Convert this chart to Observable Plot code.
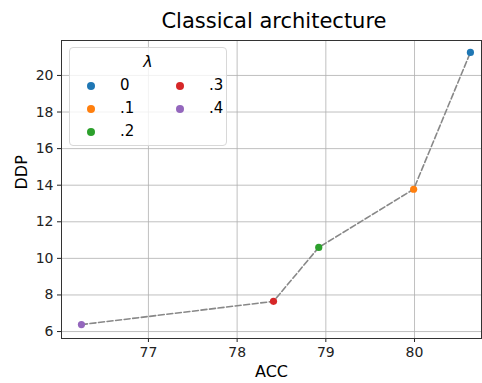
<!DOCTYPE html>
<html><head><meta charset="utf-8">
<script src="https://cdn.jsdelivr.net/npm/d3@7"></script>
<script src="https://cdn.jsdelivr.net/npm/@observablehq/plot@0.6"></script>
<style>
body{margin:0;background:#fff;font-family:"DejaVu Sans",sans-serif;}
#wrap{position:relative;width:482px;height:383px;}
#title{height:40px;line-height:42px;margin-left:64px;width:420px;text-align:center;font-size:21px;color:#000;white-space:nowrap;}
#legend{position:absolute;left:69px;top:47px;width:156px;height:97px;border:1px solid #d8d8d8;border-radius:4px;background:rgba(255,255,255,0.8);font-size:15px;}
#legend .t{position:absolute;left:0;width:100%;top:4px;text-align:center;font-style:italic;font-size:16px;}
#legend .e{position:absolute;}
#legend .m{position:absolute;width:8px;height:8px;border-radius:50%;}
</style></head>
<body><div id="wrap"><div id="title">Classical architecture</div><div id="chart"></div><div id="legend"><div class="t">λ</div></div></div>
<script>
const lambdas = ["0", ".1", ".2", ".3", ".4"];
const acc = [80.63, 79.99, 78.92, 78.41, 76.245];
const ddp = [21.26, 13.78, 10.6, 7.65, 6.38];
const colors = ["#1f77b4", "#ff7f0e", "#2ca02c", "#d62728", "#9467bd"];
const xTicks = [77, 78, 79, 80];
const yTicks = [6, 8, 10, 12, 14, 16, 18, 20];

const data = lambdas.map((l, i) => ({l, x: acc[i], y: ddp[i], c: colors[i]}));
const lineData = data.slice().sort((a, b) => a.x - b.x);

const chart = Plot.plot({
  width: 482, height: 343,
  marginTop: 0, marginLeft: 61, marginRight: 1, marginBottom: 45,
  style: {fontFamily: "DejaVu Sans, sans-serif", fontSize: "14px", color: "#222", background: "#fff"},
  x: {domain: [76.02, 80.755], label: null},
  y: {domain: [5.62, 21.91], label: null},
  marks: [
    Plot.gridX(xTicks, {stroke: "#b0b0b0", strokeOpacity: 1, strokeWidth: 0.8}),
    Plot.gridY(yTicks, {stroke: "#b0b0b0", strokeOpacity: 1, strokeWidth: 0.8}),
    Plot.line(lineData, {x: "x", y: "y", stroke: "#888", strokeWidth: 1.6, strokeDasharray: "6,2.6"}),
    Plot.dot(data, {x: "x", y: "y", fill: "c", r: 3.6}),
    Plot.axisX(xTicks, {tickSize: 4, tickPadding: 5, fontSize: 14, label: null, tickFormat: "d"}),
    Plot.axisY(yTicks, {tickSize: 4, tickPadding: 4, fontSize: 14, label: null, tickFormat: "d"}),
    Plot.frame({stroke: "#333"}),
    Plot.text(["ACC"], {frameAnchor: "bottom", dy: 38, fontSize: 16, fill: "#000"}),
    Plot.text(["DDP"], {frameAnchor: "left", dx: -40, rotate: -90, fontSize: 16, fill: "#000"})
  ]
});
document.getElementById("chart").appendChild(chart);

const leg = document.getElementById("legend");
const pos = [[0,0],[0,1],[0,2],[1,0],[1,1]];
lambdas.forEach((l, i) => {
  const [col, row] = pos[i];
  const top = 38 + row * 23;
  const m = document.createElement("div");
  m.className = "m"; m.style.background = colors[i];
  m.style.left = (17 + col * 89) + "px"; m.style.top = (top - 4) + "px";
  leg.appendChild(m);
  const t = document.createElement("div");
  t.className = "e"; t.textContent = l;
  t.style.left = (50 + col * 89) + "px"; t.style.top = (top - 10) + "px";
  leg.appendChild(t);
});
</script></body></html>
